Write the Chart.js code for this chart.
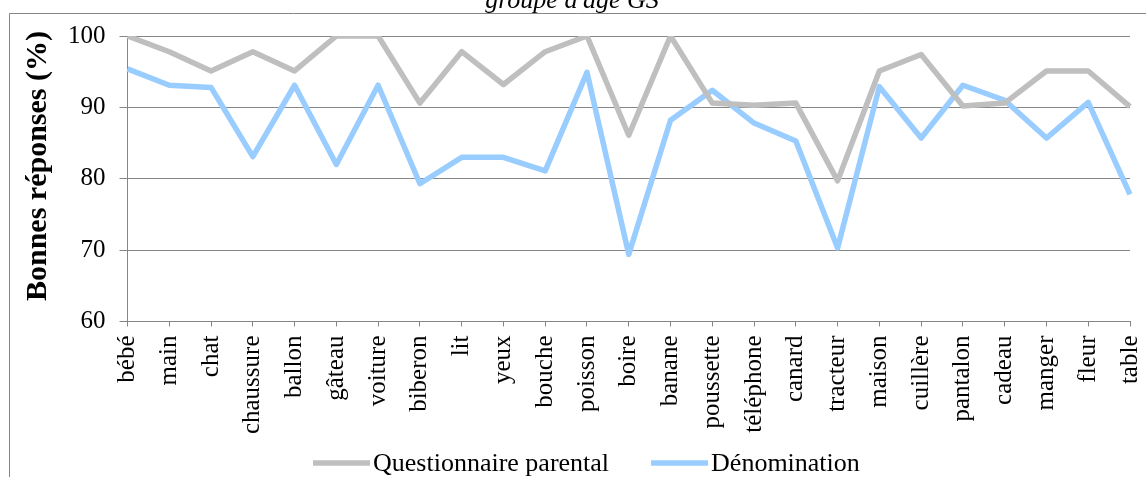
<!DOCTYPE html>
<html>
<head>
<meta charset="utf-8">
<script src="https://cdn.jsdelivr.net/npm/chart.js@4.4.1/dist/chart.umd.min.js"></script>
<style>
  html, body { margin: 0; padding: 0; background: #ffffff; }
  #wrap { position: relative; width: 1146px; height: 477px; overflow: hidden; }
  canvas { display: block; }
</style>
</head>
<body>
<div id="wrap"><canvas id="c" width="1146" height="477"></canvas></div>
<script>
const chartTitle = "groupe d'âge GS";
const yAxisTitle = "Bonnes réponses (%)";
const categories = ["bébé", "main", "chat", "chaussure", "ballon", "gâteau", "voiture", "biberon", "lit", "yeux", "bouche", "poisson", "boire", "banane", "poussette", "téléphone", "canard", "tracteur", "maison", "cuillère", "pantalon", "cadeau", "manger", "fleur", "table"];
const seriesNames = ["Questionnaire parental", "Dénomination"];
const questionnaireParental = [100, 97.8, 95.1, 97.8, 95.1, 100, 100, 90.6, 97.8, 93.2, 97.8, 100, 86.1, 100, 90.6, 90.3, 90.6, 79.7, 95.1, 97.4, 90.2, 90.6, 95.1, 95.1, 90.1];
const denomination = [95.4, 93.1, 92.8, 83.1, 93.1, 82.0, 93.1, 79.3, 83.0, 83.0, 81.1, 94.9, 69.4, 88.2, 92.4, 87.8, 85.3, 70.3, 92.9, 85.7, 93.1, 91.0, 85.7, 90.7, 77.8];
const yMin = 60, yMax = 100, yStep = 10;

const SERIF = "'Liberation Serif', 'Times New Roman', serif";
const GRID = '#868686';

const decorPlugin = {
  id: 'decor',
  afterDraw(chart) {
    const ctx = chart.ctx;
    ctx.save();
    ctx.strokeStyle = GRID;
    ctx.lineWidth = 1;
    ctx.beginPath();
    ctx.moveTo(9.5, 477);
    ctx.lineTo(9.5, 13.5);
    ctx.lineTo(1146, 13.5);
    ctx.stroke();

    ctx.fillStyle = '#000';
    ctx.font = 'italic 26px ' + SERIF;
    ctx.textAlign = 'center';
    ctx.textBaseline = 'alphabetic';
    ctx.fillText(chartTitle, 572, 7.5);

    ctx.save();
    ctx.translate(38, 166);
    ctx.rotate(-Math.PI / 2);
    ctx.font = 'bold 30px ' + SERIF;
    ctx.textAlign = 'center';
    ctx.textBaseline = 'middle';
    ctx.fillText(yAxisTitle, 0, 0);
    ctx.restore();

    ctx.font = '26px ' + SERIF;
    ctx.textAlign = 'left';
    ctx.textBaseline = 'alphabetic';
    let x = 313;
    const ly = 463;
    chart.data.datasets.forEach((ds) => {
      ctx.strokeStyle = ds.borderColor;
      ctx.lineWidth = 5.5;
      ctx.lineCap = 'butt';
      ctx.beginPath();
      ctx.moveTo(x, ly);
      ctx.lineTo(x + 57, ly);
      ctx.stroke();
      x += 60;
      ctx.fillStyle = '#000';
      ctx.fillText(ds.label, x, 471);
      x += ctx.measureText(ds.label).width + 42;
    });
    ctx.restore();
  }
};

new Chart(document.getElementById('c'), {
  type: 'line',
  data: {
    labels: categories,
    datasets: [
      {
        label: seriesNames[0],
        data: questionnaireParental,
        borderColor: '#BFBFBF',
        backgroundColor: '#BFBFBF',
        borderWidth: 5.5,
        pointRadius: 0,
        tension: 0,
        borderJoinStyle: 'round'
      },
      {
        label: seriesNames[1],
        data: denomination,
        borderColor: '#99CCFF',
        backgroundColor: '#99CCFF',
        borderWidth: 5.5,
        pointRadius: 0,
        tension: 0,
        borderJoinStyle: 'round'
      }
    ]
  },
  options: {
    responsive: false,
    animation: false,
    devicePixelRatio: 1,
    layout: { padding: { top: 36, right: 16, left: 0, bottom: 0 } },
    plugins: {
      legend: { display: false },
      title: { display: false },
      tooltip: { enabled: false }
    },
    scales: {
      x: {
        type: 'category',
        offset: false,
        afterFit(scale) {
          scale.height = 155.5;
          scale.paddingLeft = 0;
          scale.paddingRight = 0;
        },
        grid: {
          display: true,
          drawOnChartArea: false,
          drawTicks: true,
          tickLength: 5,
          color: GRID,
          tickColor: GRID
        },
        border: { display: true, color: GRID, width: 1 },
        ticks: {
          autoSkip: false,
          minRotation: 90,
          maxRotation: 90,
          padding: 9,
          color: '#000',
          font: { family: SERIF, size: 25 }
        }
      },
      y: {
        min: yMin,
        max: yMax,
        afterFit(scale) { scale.width = 127.5; },
        grid: {
          color: GRID,
          tickColor: GRID,
          tickLength: 8,
          lineWidth: 1
        },
        border: { display: true, color: GRID, width: 1 },
        ticks: {
          stepSize: yStep,
          padding: 14,
          color: '#000',
          font: { family: SERIF, size: 25 }
        }
      }
    }
  },
  plugins: [decorPlugin]
});
</script>
</body>
</html>
